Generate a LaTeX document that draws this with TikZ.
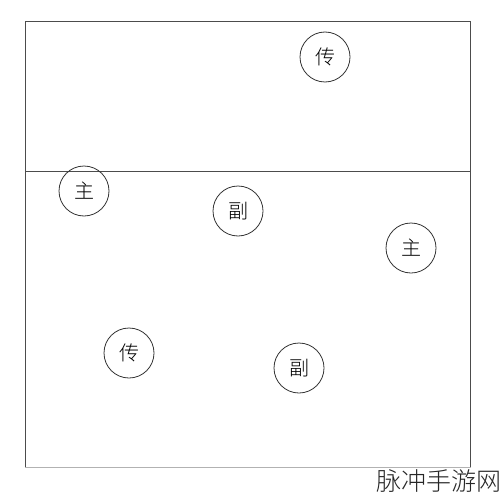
\documentclass[tikz,border=0pt]{standalone}
\usepackage{fontspec}
\newfontfamily\cjk{Noto Sans CJK SC}
\newfontfamily\cjklight{Noto Sans CJK SC Light}
\begin{document}
\begin{tikzpicture}[x=1pt,y=-1pt,
  player/.style={circle,draw=black!80,line width=0.8pt,minimum size=50pt,inner sep=0pt,font=\cjklight\fontsize{20}{20}\selectfont},
  court/.style={draw=black!70,line width=1pt}]
\useasboundingbox (0,0) rectangle (502,500);
\coordinate (tl) at (25,22);
\coordinate (tr) at (470.5,22);
\coordinate (bl) at (25,467);
\coordinate (br) at (470.5,467);
\coordinate (ml) at (25,171);
\coordinate (mr) at (470.5,171);
\draw[court] (bl) -- (tl) -- (tr) -- (br);
\draw[draw=black!30,line width=1pt] (bl) -- (br);
\draw[court] (ml) -- (mr);
\node[player] (c1) at (325,57) {传};
\node[player] (z1) at (84,191) {主};
\node[player] (f1) at (238,211) {副};
\node[player] (z2) at (411,248) {主};
\node[player] (c2) at (129,353) {传};
\node[player] (f2) at (299,368) {副};
\node[font=\cjklight\fontsize{25}{25}\selectfont,text=black!85,anchor=east,inner sep=0pt] (wm) at (502,481) {脉冲手游网};
\end{tikzpicture}
\end{document}
